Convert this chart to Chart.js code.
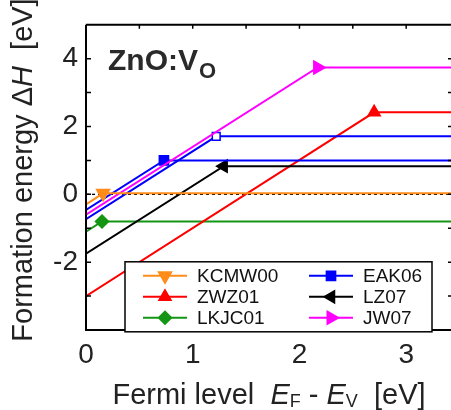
<!DOCTYPE html>
<html>
<head>
<meta charset="utf-8">
<script src="https://cdn.jsdelivr.net/npm/chart.js@4/dist/chart.umd.min.js"></script>
<style>
  html, body { margin: 0; padding: 0; background: #fff; }
  #wrap { width: 451px; height: 410px; }
</style>
</head>
<body>
<div id="wrap"><canvas id="c" width="451" height="410"></canvas></div>
<script>
// Formation energy lines, one per source (Fermi level x, energy y)
const sources = ['KCMW00', 'ZWZ01', 'LKJC01', 'EAK06', 'LZ07', 'JW07'];
const kcmwX = [0, 0.16, 3.44];
const kcmwY = [-0.30, 0.03, 0.03];
const zwzX = [0, 2.70, 3.44];
const zwzY = [-3.00, 2.42, 2.42];
const lkjcX = [0, 0.15, 3.44];
const lkjcY = [-1.10, -0.80, -0.80];
const eakX = [0, 0.73, 3.44];
const eakY = [-0.46, 1.00, 1.00];
const eak2X = [0, 1.22, 3.44];
const eak2Y = [-0.73, 1.71, 1.71];
const lzX = [0, 1.29, 3.44];
const lzY = [-1.75, 0.83, 0.83];
const jwX = [0, 2.17, 3.44];
const jwY = [-0.60, 3.74, 3.74];
const zeroX = [0, 3.44];
const zeroY = [0, 0];

const xMin = 0, xMax = 3.42;
const yMin = -4, yMax = 5;
const xTickLabels = [0, 1, 2, 3];
const yTickLabels = [-2, 0, 2, 4];

const FONT = '"Liberation Sans", Arial, Helvetica, sans-serif';
const TXT = '#222';

function pts(xs, ys) {
    return xs.map((x, i) => ({ x: x, y: ys[i] }));
}

// marker only on the kink point
function series(label, xs, ys, color, style, rot, radius, fill) {
    return {
        label: label,
        data: pts(xs, ys),
        borderColor: color,
        borderWidth: 2,
        pointStyle: style,
        pointRotation: rot,
        pointRadius: xs.map((x, i) => (i === 1 ? radius : 0)),
        pointBackgroundColor: fill || color,
        pointBorderColor: color,
        pointBorderWidth: 1.5,
        tension: 0
    };
}

// first dataset is drawn on top
const datasets = [
    series('KCMW00', kcmwX, kcmwY, '#ff8c1a', 'triangle', 180, 7.5),
    series('JW07', jwX, jwY, '#ff00ff', 'triangle', 90, 7.5),
    series('EAK06', eakX, eakY, '#0000ff', 'rect', 0, 6.5),
    series('EAK06b', eak2X, eak2Y, '#0000ff', 'rect', 0, 5.5, '#ffffff'),
    series('LZ07', lzX, lzY, '#000000', 'triangle', 270, 7),
    series('ZWZ01', zwzX, zwzY, '#ff0000', 'triangle', 0, 7),
    series('LKJC01', lkjcX, lkjcY, '#149614', 'rectRot', 0, 6.5),
    { label: 'zero', data: pts(zeroX, zeroY), borderColor: '#000', borderWidth: 1.3,
      borderDash: [3, 3], pointRadius: 0 }
];

// set the ticks straight from the tick label arrays
function fixTicks(list) {
    return s => { s.ticks = list.map(v => ({ value: v })); };
}

// axis frame, inward ticks, titles and in-plot legend
const decor = {
    id: 'decor',
    afterDraw(chart) {
        const ctx = chart.ctx;
        const a = chart.chartArea;
        const xs = chart.scales.x, ys = chart.scales.y;
        ctx.save();
        ctx.strokeStyle = '#000';
        ctx.lineWidth = 2;
        ctx.beginPath();
        ctx.moveTo(a.left, a.top);
        ctx.lineTo(a.right + 2, a.top);
        ctx.moveTo(a.left, a.top);
        ctx.lineTo(a.left, a.bottom);
        ctx.lineTo(a.right + 2, a.bottom);
        ctx.stroke();

        ctx.lineWidth = 1.5;
        ctx.beginPath();
        for (let v = 0.5; v < xMax; v += 0.5) {
            const px = xs.getPixelForValue(v);
            ctx.moveTo(px, a.bottom); ctx.lineTo(px, a.bottom - 4);
            ctx.moveTo(px, a.top); ctx.lineTo(px, a.top + 4);
        }
        for (let v = yMin + 1; v < yMax; v++) {
            const py = ys.getPixelForValue(v);
            ctx.moveTo(a.left, py); ctx.lineTo(a.left + 5, py);
            ctx.moveTo(a.right, py); ctx.lineTo(a.right - 3, py);
        }
        ctx.stroke();

        // plot title
        ctx.fillStyle = '#2a2a2a';
        ctx.textBaseline = 'alphabetic';
        ctx.textAlign = 'left';
        ctx.font = 'bold 30px ' + FONT;
        const tx = a.left + 22, ty = a.top + 45;
        ctx.fillText('ZnO:V', tx, ty);
        const tw = ctx.measureText('ZnO:V').width;
        ctx.font = 'bold 22px ' + FONT;
        ctx.fillText('O', tx + tw + 1, ty + 8);

        // axis titles
        ctx.fillStyle = TXT;
        drawRich(ctx, [
            ['Fermi level  ', '', 29, 0],
            ['E', 'italic ', 29, 0], ['F', '', 18, 3],
            [' - ', '', 29, 0],
            ['E', 'italic ', 29, 0], ['V', '', 18, 3],
            ['  [eV]', '', 29, 0]
        ], 269, 404);

        ctx.save();
        ctx.translate(32, 170);
        ctx.rotate(-Math.PI / 2);
        drawRich(ctx, [
            ['Formation energy ', '', 29, 0],
            ['\u0394', '', 29, 0], ['H', 'italic ', 29, 0],
            ['  [eV]', '', 29, 0]
        ], 0, 0);
        ctx.restore();

        // legend
        const L = { left: a.left + 39, top: a.top + 237, w: 307, h: 70 };
        ctx.fillStyle = '#fff';
        ctx.fillRect(L.left, L.top, L.w, L.h);
        ctx.strokeStyle = '#000';
        ctx.lineWidth = 1.5;
        ctx.strokeRect(L.left, L.top, L.w, L.h);
        ctx.font = '19px ' + FONT;
        ctx.textBaseline = 'middle';
        sources.forEach((name, i) => {
            const ds = chart.data.datasets.find(d => d.label === name);
            const col = Math.floor(i / 3), row = i % 3;
            const x0 = L.left + 18 + col * 166;
            const y0 = L.top + 14 + row * 21;
            ctx.strokeStyle = ds.borderColor;
            ctx.lineWidth = 2;
            ctx.beginPath();
            ctx.moveTo(x0, y0); ctx.lineTo(x0 + 44, y0);
            ctx.stroke();
            ctx.fillStyle = ds.pointBackgroundColor;
            ctx.lineWidth = 1.5;
            Chart.helpers.drawPoint(ctx, {
                pointStyle: ds.pointStyle, rotation: ds.pointRotation,
                radius: Math.max.apply(null, ds.pointRadius), borderWidth: 1.5
            }, x0 + 22, y0);
            ctx.fillStyle = '#111';
            ctx.textAlign = 'left';
            ctx.fillText(name, x0 + 54, y0 + 1);
        });
        ctx.restore();
    }
};

// parts: [text, style, size, baseline shift]
function drawRich(ctx, parts, cx, y) {
    let total = 0;
    parts.forEach(p => {
        ctx.font = p[1] + p[2] + 'px ' + FONT;
        total += ctx.measureText(p[0]).width;
    });
    let x = cx - total / 2;
    ctx.textAlign = 'left';
    ctx.textBaseline = 'alphabetic';
    parts.forEach(p => {
        ctx.font = p[1] + p[2] + 'px ' + FONT;
        ctx.fillText(p[0], x, y + p[3]);
        x += ctx.measureText(p[0]).width;
    });
}

new Chart(document.getElementById('c'), {
    type: 'line',
    data: { datasets: datasets },
    plugins: [decor],
    options: {
        responsive: false,
        animation: false,
        events: [],
        layout: { padding: { top: 10, right: 0, left: 0, bottom: 0 } },
        plugins: { legend: { display: false }, tooltip: { enabled: false } },
        scales: {
            x: {
                type: 'linear', min: xMin, max: xMax,
                grid: { display: false, drawTicks: false },
                border: { display: false },
                afterBuildTicks: fixTicks(xTickLabels),
                afterFit: s => { s.height = 80; },
                ticks: {
                    autoSkip: false, maxRotation: 0, padding: 8, color: TXT,
                    font: { family: FONT, size: 28 },
                    callback: v => v
                }
            },
            y: {
                min: yMin, max: yMax,
                grid: { display: false, drawTicks: false },
                border: { display: false },
                afterBuildTicks: fixTicks(yTickLabels),
                afterFit: s => { s.width = 86; },
                ticks: {
                    autoSkip: false, padding: 8, color: TXT,
                    font: { family: FONT, size: 28 },
                    callback: v => (v < 0 ? '-' + Math.abs(v) : v)
                }
            }
        }
    }
});
</script>
</body>
</html>
